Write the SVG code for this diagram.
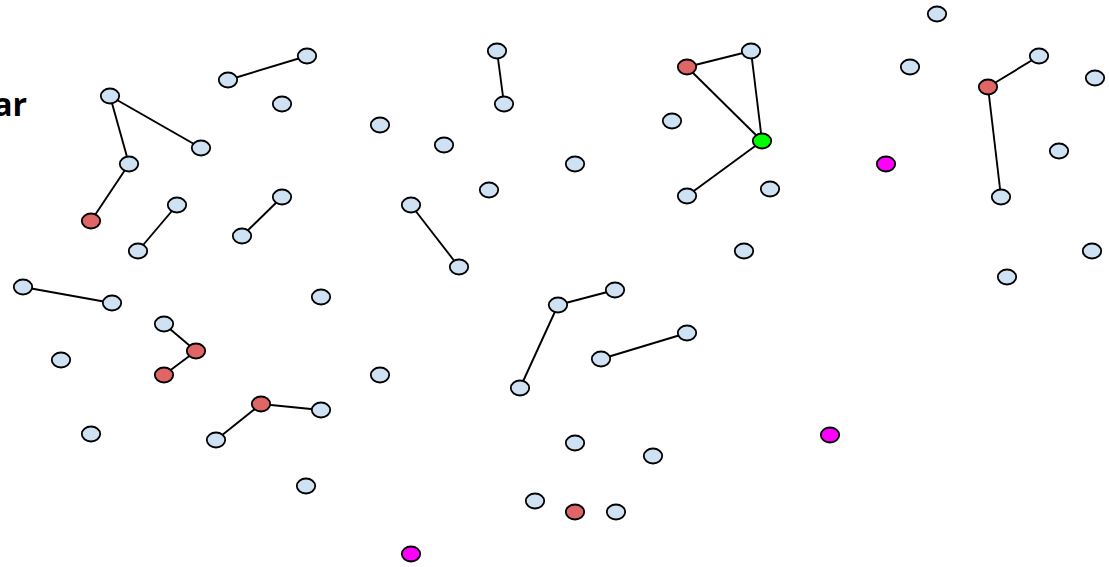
<svg xmlns="http://www.w3.org/2000/svg" width="1109" height="567" viewBox="0 0 1109 567">
<style>
.n{stroke:#000;stroke-width:1.8}
.b{fill:#cfe2f3}
.r{fill:#e06666}
.g{fill:#00ff00}
.m{fill:#ff00ff}
#edges line{stroke:#000;stroke-width:1.9}
.t{font-family:"Open Sans","Liberation Sans",sans-serif;font-weight:bold;font-size:32px;fill:#000}
</style>
<rect width="1109" height="567" fill="#fff"/>
<text class="t" x="27" y="116" text-anchor="end">ar</text>
<g id="edges">
<line x1="307" y1="56" x2="228" y2="80"/>
<line x1="497" y1="51" x2="504" y2="104"/>
<line x1="687" y1="67" x2="751" y2="51"/>
<line x1="751" y1="51" x2="762" y2="141"/>
<line x1="687" y1="67" x2="762" y2="141"/>
<line x1="762" y1="141" x2="687" y2="196"/>
<line x1="1039" y1="56" x2="988" y2="87"/>
<line x1="988" y1="87" x2="1001" y2="197"/>
<line x1="110" y1="96" x2="201" y2="148"/>
<line x1="110" y1="96" x2="129" y2="164"/>
<line x1="129" y1="164" x2="91" y2="221"/>
<line x1="177" y1="205" x2="138" y2="251"/>
<line x1="282" y1="197" x2="242" y2="236"/>
<line x1="411" y1="205" x2="459" y2="267"/>
<line x1="23" y1="287" x2="112" y2="303"/>
<line x1="615" y1="290" x2="558" y2="305"/>
<line x1="558" y1="305" x2="520" y2="388"/>
<line x1="687" y1="333" x2="601" y2="359"/>
<line x1="164" y1="324" x2="196" y2="351"/>
<line x1="196" y1="351" x2="164" y2="375"/>
<line x1="261" y1="404" x2="321" y2="410"/>
<line x1="261" y1="404" x2="216" y2="440"/>
</g>
<g id="n1"><ellipse class="n b" cx="937" cy="14" rx="9.2" ry="7.5"/></g>
<g id="n2"><ellipse class="n b" cx="307" cy="56" rx="9.2" ry="7.5"/></g>
<g id="n3"><ellipse class="n b" cx="228" cy="80" rx="9.2" ry="7.5"/></g>
<g id="n4"><ellipse class="n b" cx="497" cy="51" rx="9.2" ry="7.5"/></g>
<g id="n5"><ellipse class="n b" cx="504" cy="104" rx="9.2" ry="7.5"/></g>
<g id="n6"><ellipse class="n r" cx="687" cy="67" rx="9.2" ry="7.5"/></g>
<g id="n7"><ellipse class="n b" cx="751" cy="51" rx="9.2" ry="7.5"/></g>
<g id="n8"><ellipse class="n g" cx="762" cy="141" rx="9.2" ry="7.5"/></g>
<g id="n9"><ellipse class="n b" cx="687" cy="196" rx="9.2" ry="7.5"/></g>
<g id="n10"><ellipse class="n b" cx="910" cy="67" rx="9.2" ry="7.5"/></g>
<g id="n11"><ellipse class="n b" cx="1039" cy="56" rx="9.2" ry="7.5"/></g>
<g id="n12"><ellipse class="n r" cx="988" cy="87" rx="9.2" ry="7.5"/></g>
<g id="n13"><ellipse class="n b" cx="1001" cy="197" rx="9.2" ry="7.5"/></g>
<g id="n14"><ellipse class="n b" cx="1095" cy="78" rx="9.2" ry="7.5"/></g>
<g id="n15"><ellipse class="n b" cx="110" cy="96" rx="9.2" ry="7.5"/></g>
<g id="n16"><ellipse class="n b" cx="201" cy="148" rx="9.2" ry="7.5"/></g>
<g id="n17"><ellipse class="n b" cx="129" cy="164" rx="9.2" ry="7.5"/></g>
<g id="n18"><ellipse class="n r" cx="91" cy="221" rx="9.2" ry="7.5"/></g>
<g id="n19"><ellipse class="n b" cx="282" cy="104" rx="9.2" ry="7.5"/></g>
<g id="n20"><ellipse class="n b" cx="380" cy="125" rx="9.2" ry="7.5"/></g>
<g id="n21"><ellipse class="n b" cx="444" cy="145" rx="9.2" ry="7.5"/></g>
<g id="n22"><ellipse class="n b" cx="672" cy="121" rx="9.2" ry="7.5"/></g>
<g id="n23"><ellipse class="n b" cx="575" cy="164" rx="9.2" ry="7.5"/></g>
<g id="n24"><ellipse class="n b" cx="489" cy="190" rx="9.2" ry="7.5"/></g>
<g id="n25"><ellipse class="n b" cx="770" cy="189" rx="9.2" ry="7.5"/></g>
<g id="n26"><ellipse class="n m" cx="886" cy="164" rx="9.2" ry="7.5"/></g>
<g id="n27"><ellipse class="n b" cx="1059" cy="151" rx="9.2" ry="7.5"/></g>
<g id="n28"><ellipse class="n b" cx="177" cy="205" rx="9.2" ry="7.5"/></g>
<g id="n29"><ellipse class="n b" cx="138" cy="251" rx="9.2" ry="7.5"/></g>
<g id="n30"><ellipse class="n b" cx="282" cy="197" rx="9.2" ry="7.5"/></g>
<g id="n31"><ellipse class="n b" cx="242" cy="236" rx="9.2" ry="7.5"/></g>
<g id="n32"><ellipse class="n b" cx="411" cy="205" rx="9.2" ry="7.5"/></g>
<g id="n33"><ellipse class="n b" cx="459" cy="267" rx="9.2" ry="7.5"/></g>
<g id="n34"><ellipse class="n b" cx="744" cy="251" rx="9.2" ry="7.5"/></g>
<g id="n35"><ellipse class="n b" cx="1092" cy="251" rx="9.2" ry="7.5"/></g>
<g id="n36"><ellipse class="n b" cx="1007" cy="277" rx="9.2" ry="7.5"/></g>
<g id="n37"><ellipse class="n b" cx="23" cy="287" rx="9.2" ry="7.5"/></g>
<g id="n38"><ellipse class="n b" cx="112" cy="303" rx="9.2" ry="7.5"/></g>
<g id="n39"><ellipse class="n b" cx="321" cy="297" rx="9.2" ry="7.5"/></g>
<g id="n40"><ellipse class="n b" cx="615" cy="290" rx="9.2" ry="7.5"/></g>
<g id="n41"><ellipse class="n b" cx="558" cy="305" rx="9.2" ry="7.5"/></g>
<g id="n42"><ellipse class="n b" cx="520" cy="388" rx="9.2" ry="7.5"/></g>
<g id="n43"><ellipse class="n b" cx="687" cy="333" rx="9.2" ry="7.5"/></g>
<g id="n44"><ellipse class="n b" cx="601" cy="359" rx="9.2" ry="7.5"/></g>
<g id="n45"><ellipse class="n b" cx="164" cy="324" rx="9.2" ry="7.5"/></g>
<g id="n46"><ellipse class="n r" cx="196" cy="351" rx="9.2" ry="7.5"/></g>
<g id="n47"><ellipse class="n r" cx="164" cy="375" rx="9.2" ry="7.5"/></g>
<g id="n48"><ellipse class="n b" cx="61" cy="360" rx="9.2" ry="7.5"/></g>
<g id="n49"><ellipse class="n b" cx="380" cy="375" rx="9.2" ry="7.5"/></g>
<g id="n50"><ellipse class="n r" cx="261" cy="404" rx="9.2" ry="7.5"/></g>
<g id="n51"><ellipse class="n b" cx="321" cy="410" rx="9.2" ry="7.5"/></g>
<g id="n52"><ellipse class="n b" cx="216" cy="440" rx="9.2" ry="7.5"/></g>
<g id="n53"><ellipse class="n b" cx="91" cy="434" rx="9.2" ry="7.5"/></g>
<g id="n54"><ellipse class="n b" cx="575" cy="443" rx="9.2" ry="7.5"/></g>
<g id="n55"><ellipse class="n b" cx="653" cy="456" rx="9.2" ry="7.5"/></g>
<g id="n56"><ellipse class="n m" cx="830" cy="435" rx="9.2" ry="7.5"/></g>
<g id="n57"><ellipse class="n b" cx="306" cy="486" rx="9.2" ry="7.5"/></g>
<g id="n58"><ellipse class="n b" cx="535" cy="501" rx="9.2" ry="7.5"/></g>
<g id="n59"><ellipse class="n r" cx="575" cy="512" rx="9.2" ry="7.5"/></g>
<g id="n60"><ellipse class="n b" cx="616" cy="512" rx="9.2" ry="7.5"/></g>
<g id="n61"><ellipse class="n m" cx="411" cy="554" rx="9.2" ry="7.5"/></g>
</svg>
